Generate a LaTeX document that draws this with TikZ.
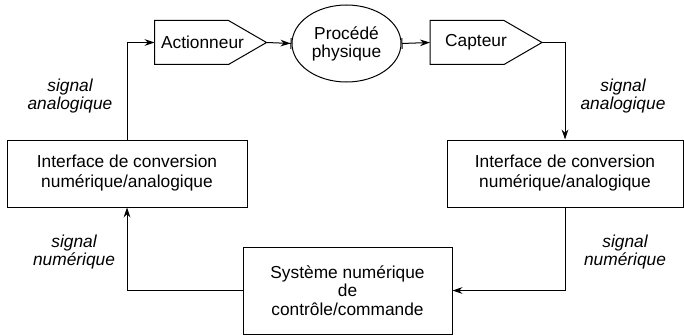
\documentclass[tikz,border=0pt]{standalone}
\usepackage{fontspec}
\setmainfont{Liberation Sans}
\usepackage{tikz}
\usetikzlibrary{shapes.geometric, arrows.meta}
\usetikzlibrary{positioning}

\begin{document}
\begin{tikzpicture}[x=0.75pt,y=-0.75pt,
  line width=0.75pt,
  every node/.style={font=\fontsize{13}{15}\selectfont},
  bloc/.style={draw, minimum height=50.25pt, align=center},
  capteurs/.style={minimum width=83.25pt, minimum height=32.25pt, inner sep=0pt},
  procede/.style={draw, ellipse, minimum width=81.75pt, minimum height=57.75pt,
    inner sep=0pt, align=center, font=\fontsize{13}{13.5}\selectfont},
  etiquette/.style={align=center, font=\fontsize{13}{13}\itshape},
  fleche/.style={-{Stealth[length=7.5pt,width=5pt]}}
]
\useasboundingbox (0,0) rectangle (684,335);
\node[capteurs] (act) at (210.5,42.5) {\hspace*{-12pt}Actionneur};
\node[procede] (proc) at (346.5,43.5) {Procédé\\physique};
\node[capteurs] (capt) at (486,42.5) {\hspace*{-15pt}Capteur};
\draw (act.north west) -- ([xshift=55.5pt]act.north west) -- (act.east)
  -- ([xshift=55.5pt]act.south west) -- (act.south west) -- cycle;
\draw (capt.north west) -- ([xshift=55.5pt]capt.north west) -- (capt.east)
  -- ([xshift=55.5pt]capt.south west) -- (capt.south west) -- cycle;
\node[bloc, minimum width=180pt] (cna) at (127,173.5)
  {Interface de conversion\\numérique/analogique};
\node[bloc, minimum width=177pt] (can) at (565,173.5)
  {Interface de conversion\\numérique/analogique};
\node[bloc, minimum width=156.75pt, minimum height=65.25pt,
  font=\fontsize{13}{14}\selectfont] (sys) at (347.5,290.5)
  {Système numérique\\de\\contrôle/commande};
% connexions
\draw[fleche] (cna.north) |- (act.west);
\draw[-{Stealth[length=7.5pt,width=5pt] Bar[width=8pt]}] (act.east) -- (proc.west);
\draw[{Bar[width=8pt]}-{Stealth[length=7.5pt,width=5pt]}] (proc.east) -- (capt.west);
\draw[fleche] (capt.east) -| (can.north);
\draw[fleche] (can.south) |- (sys.east);
\draw[fleche] (sys.west) -| (cna.south);
% signaux
\node[etiquette] at (70,96) {signal\\analogique};
\node[etiquette] at (623,96) {signal\\analogique};
\node[etiquette] at (74,252) {signal\\numérique};
\node[etiquette] at (625,252) {signal\\numérique};
\end{tikzpicture}
\end{document}
